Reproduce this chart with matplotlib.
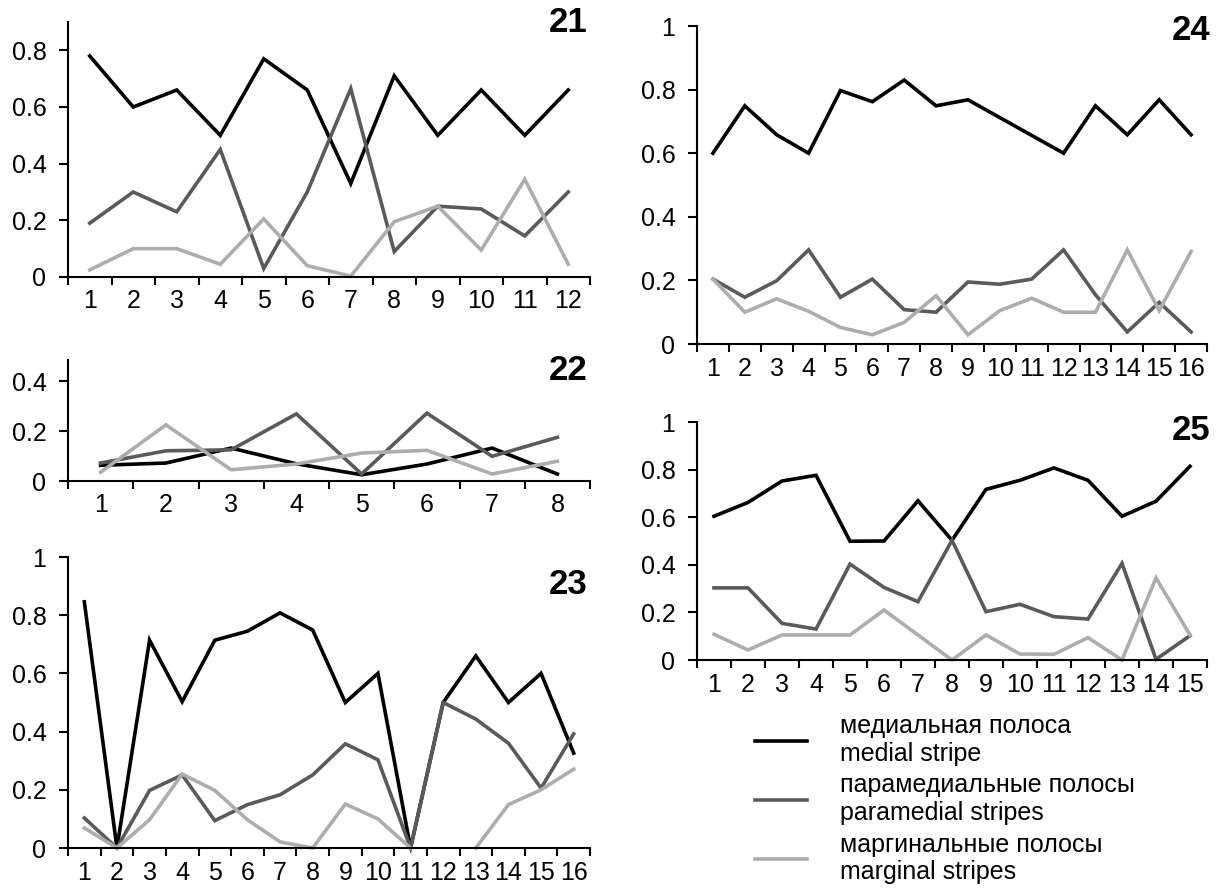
import matplotlib
matplotlib.use('Agg')
import matplotlib.pyplot as plt
from matplotlib.lines import Line2D
from matplotlib.ticker import FuncFormatter, FixedLocator
import numpy as np

plt.rcParams['font.family'] = ['Liberation Sans', 'DejaVu Sans']

# Доли полос по сегментам (данные по рисунку)
medial_21 = [0.78, 0.60, 0.66, 0.50, 0.77, 0.66, 0.33, 0.71, 0.50, 0.66, 0.50, 0.66]
paramed_21 = [0.19, 0.30, 0.23, 0.45, 0.03, 0.30, 0.665, 0.09, 0.25, 0.24, 0.145, 0.30]
margin_21 = [0.025, 0.10, 0.10, 0.045, 0.205, 0.04, 0.003, 0.195, 0.25, 0.095, 0.345, 0.045]

medial_22 = [0.063, 0.072, 0.132, 0.069, 0.025, 0.068, 0.132, 0.028]
paramed_22 = [0.072, 0.121, 0.125, 0.269, 0.028, 0.272, 0.099, 0.175]
margin_22 = [0.035, 0.225, 0.045, 0.068, 0.112, 0.123, 0.028, 0.079]

medial_23 = [0.846, 0.0, 0.714, 0.503, 0.714, 0.745, 0.808, 0.749, 0.50, 0.60,
             0.0, 0.50, 0.66, 0.50, 0.60, 0.326]
paramed_23 = [0.103, 0.0, 0.198, 0.251, 0.094, 0.149, 0.183, 0.251, 0.358, 0.303,
              0.0, 0.50, 0.443, 0.36, 0.206, 0.392]
# в сегменте 12 маргинальная линия не видна
margin_23 = [0.069, 0.0, 0.097, 0.254, 0.198, 0.097, 0.021, 0.0, 0.151, 0.10,
             0.0, np.nan, 0.0, 0.149, 0.20, 0.271]

medial_24 = [0.60, 0.749, 0.658, 0.60, 0.797, 0.762, 0.83, 0.749, 0.768, 0.712,
             0.656, 0.60, 0.749, 0.658, 0.768, 0.658]
paramed_24 = [0.204, 0.147, 0.199, 0.296, 0.147, 0.204, 0.108, 0.10, 0.195, 0.188,
              0.204, 0.296, 0.155, 0.038, 0.131, 0.038]
margin_24 = [0.204, 0.10, 0.142, 0.103, 0.052, 0.029, 0.068, 0.152, 0.029, 0.105,
             0.144, 0.10, 0.10, 0.296, 0.105, 0.291]

medial_25 = [0.604, 0.662, 0.752, 0.776, 0.499, 0.50, 0.669, 0.503, 0.717, 0.755,
             0.807, 0.755, 0.604, 0.667, 0.814]
paramed_25 = [0.303, 0.303, 0.154, 0.13, 0.403, 0.305, 0.245, 0.503, 0.203, 0.234,
              0.182, 0.172, 0.406, 0.003, 0.102]
margin_25 = [0.108, 0.042, 0.105, 0.105, 0.105, 0.21, 0.105, 0.0, 0.105, 0.025,
             0.024, 0.094, 0.0, 0.345, 0.105]

labels = ['медиальная полоса\nmedial stripe',
          'парамедиальные полосы\nparamedial stripes',
          'маргинальные полосы\nmarginal stripes']
colors = ['#000000', '#5a5a5a', '#adadad']

W, H = 1225, 888
fig = plt.figure(figsize=(W / 100, H / 100), dpi=100)


def px_axes(left, right, top, bottom):
    return fig.add_axes([left / W, 1 - bottom / H, (right - left) / W, (bottom - top) / H])


def draw(ax, series, ymax, yticks, num, num_xy):
    n = len(series[0])
    x = np.arange(1, n + 1)
    for vals, c in zip(series, colors):
        ax.plot(x, vals, color=c, lw=2.6, solid_joinstyle='miter', clip_on=False)
    ax.set_xlim(0.5, n + 0.5)
    ax.set_ylim(0, ymax)
    ax.xaxis.set_major_locator(FixedLocator(np.arange(0.5, n + 1, 1)))
    ax.xaxis.set_minor_locator(FixedLocator(x))
    ax.set_xticklabels([])
    ax.set_xticklabels([str(i) for i in x], minor=True)
    ax.tick_params(axis='x', which='major', direction='out', length=6, width=1.5)
    ax.tick_params(axis='x', which='minor', length=0, pad=9, labelsize=18)
    ax.set_yticks(yticks)
    ax.yaxis.set_major_formatter(FuncFormatter(lambda v, p: '%g' % v))
    ax.tick_params(axis='y', direction='out', length=6.5, width=1.5, pad=9, labelsize=18)
    for s in ['top', 'right']:
        ax.spines[s].set_visible(False)
    for s in ['left', 'bottom']:
        ax.spines[s].set_linewidth(1.5)
    fig.text(num_xy[0] / W, 1 - num_xy[1] / H, num, ha='right', va='center',
             fontsize=25, fontweight='bold')


ax21 = px_axes(68, 590, 22, 277)
draw(ax21, [medial_21, paramed_21, margin_21], 0.9, [0, 0.2, 0.4, 0.6, 0.8], '21', (588, 22))

ax22 = px_axes(68, 590, 360, 481)
draw(ax22, [medial_22, paramed_22, margin_22], 0.485, [0, 0.2, 0.4], '22', (588, 370))

ax23 = px_axes(68, 590, 557, 848)
draw(ax23, [medial_23, paramed_23, margin_23], 1.0, [0, 0.2, 0.4, 0.6, 0.8, 1.0], '23', (588, 585))

ax24 = px_axes(697, 1207, 26, 344)
draw(ax24, [medial_24, paramed_24, margin_24], 1.0, [0, 0.2, 0.4, 0.6, 0.8, 1.0], '24', (1210, 30))

ax25 = px_axes(697, 1207, 422, 660)
draw(ax25, [medial_25, paramed_25, margin_25], 1.0, [0, 0.2, 0.4, 0.6, 0.8, 1.0], '25', (1210, 430))

handles = [Line2D([], [], color=c, lw=2.6) for c in colors]
fig.legend(handles, labels, loc='upper left', bbox_to_anchor=(755 / W, 1 - 714 / H),
           frameon=False, fontsize=18, handlelength=2.1, handletextpad=1.3,
           labelspacing=0.3, borderpad=0, borderaxespad=0)

fig.savefig('out.png', dpi=100)
